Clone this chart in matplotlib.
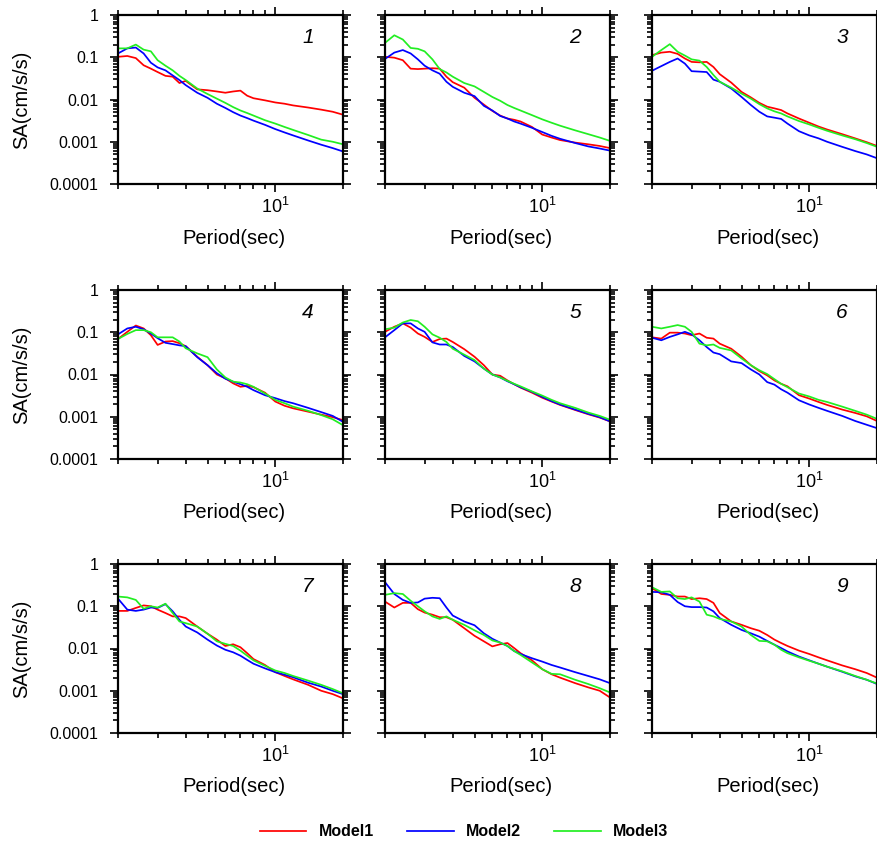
import numpy as np
import matplotlib
matplotlib.use("Agg")
import matplotlib.pyplot as plt
from matplotlib.ticker import LogLocator, FixedLocator, NullFormatter, FixedFormatter

plt.rcParams['font.family'] = ['Liberation Sans', 'DejaVu Sans']

# Periods (sec) at which the spectra were read
periods = [2, 2.2, 2.4, 2.6, 2.8, 3, 3.25, 3.5, 3.75, 4, 4.5, 5, 5.5, 6, 6.5, 7,
           7.5, 8, 9, 10, 11, 12, 14, 16, 18, 20]

# log10 of SA (cm/s/s); one list per model and panel
m1_p1 = [-0.99, -0.97, -1.02, -1.19, -1.27, -1.35, -1.44, -1.46, -1.61, -1.56, -1.76, -1.78, -1.81,
         -1.84, -1.81, -1.79, -1.91, -1.97, -2.02, -2.07, -2.10, -2.14, -2.19, -2.24, -2.29, -2.36]
m2_p1 = [-0.91, -0.79, -0.77, -0.91, -1.13, -1.24, -1.31, -1.43, -1.54, -1.66, -1.84, -1.96, -2.10,
         -2.20, -2.30, -2.38, -2.44, -2.50, -2.60, -2.70, -2.78, -2.85, -2.97, -3.07, -3.15, -3.23]
m3_p1 = [-0.79, -0.79, -0.70, -0.82, -0.86, -1.07, -1.20, -1.31, -1.44, -1.54, -1.74, -1.87, -1.98,
         -2.08, -2.18, -2.26, -2.32, -2.38, -2.49, -2.57, -2.65, -2.72, -2.84, -2.95, -3.00, -3.06]

m1_p2 = [-0.99, -1.01, -1.07, -1.27, -1.28, -1.27, -1.26, -1.27, -1.46, -1.59, -1.72, -1.96, -2.12,
         -2.27, -2.38, -2.45, -2.48, -2.52, -2.65, -2.83, -2.90, -2.96, -3.02, -3.06, -3.10, -3.15]
m2_p2 = [-1.04, -0.89, -0.83, -0.91, -1.05, -1.20, -1.31, -1.39, -1.58, -1.70, -1.84, -1.92, -2.15,
         -2.26, -2.39, -2.45, -2.52, -2.57, -2.67, -2.77, -2.86, -2.93, -3.03, -3.11, -3.16, -3.21]
m3_p2 = [-0.66, -0.48, -0.58, -0.78, -0.80, -0.86, -1.05, -1.28, -1.36, -1.46, -1.61, -1.69, -1.82,
         -1.94, -2.03, -2.13, -2.20, -2.26, -2.37, -2.47, -2.55, -2.62, -2.73, -2.82, -2.90, -2.98]

m1_p3 = [-0.95, -0.89, -0.87, -0.92, -1.03, -1.11, -1.12, -1.11, -1.23, -1.40, -1.60, -1.82, -1.95,
         -2.08, -2.17, -2.21, -2.25, -2.33, -2.45, -2.55, -2.64, -2.71, -2.82, -2.92, -3.01, -3.10]
m2_p3 = [-1.32, -1.21, -1.11, -1.03, -1.15, -1.33, -1.34, -1.35, -1.53, -1.58, -1.74, -1.94, -2.13,
         -2.29, -2.40, -2.43, -2.46, -2.57, -2.75, -2.85, -2.92, -3.00, -3.12, -3.22, -3.30, -3.39]
m3_p3 = [-0.99, -0.83, -0.69, -0.87, -0.96, -1.05, -1.08, -1.23, -1.42, -1.58, -1.72, -1.86, -1.98,
         -2.11, -2.21, -2.28, -2.33, -2.40, -2.51, -2.59, -2.67, -2.74, -2.85, -2.94, -3.03, -3.12]

m1_p4 = [-1.16, -0.99, -0.84, -0.91, -1.07, -1.30, -1.22, -1.21, -1.26, -1.33, -1.58, -1.78, -2.00,
         -2.09, -2.21, -2.29, -2.27, -2.30, -2.43, -2.64, -2.74, -2.80, -2.88, -2.95, -3.01, -3.08]
m2_p4 = [-1.05, -0.91, -0.87, -0.93, -1.03, -1.14, -1.25, -1.28, -1.31, -1.33, -1.59, -1.78, -1.97,
         -2.10, -2.17, -2.23, -2.29, -2.37, -2.49, -2.56, -2.63, -2.68, -2.79, -2.89, -2.98, -3.12]
m3_p4 = [-1.16, -1.04, -0.95, -0.95, -1.00, -1.12, -1.12, -1.12, -1.22, -1.38, -1.50, -1.59, -1.88,
         -2.07, -2.17, -2.19, -2.23, -2.29, -2.45, -2.60, -2.68, -2.76, -2.86, -2.96, -3.06, -3.20]

m1_p5 = [-0.99, -0.87, -0.79, -0.89, -1.03, -1.11, -1.23, -1.16, -1.15, -1.23, -1.40, -1.58, -1.78,
         -2.00, -2.03, -2.14, -2.23, -2.31, -2.43, -2.55, -2.64, -2.72, -2.84, -2.94, -3.02, -3.11]
m2_p5 = [-1.12, -0.95, -0.79, -0.79, -0.91, -0.99, -1.24, -1.29, -1.29, -1.35, -1.56, -1.69, -1.86,
         -2.00, -2.07, -2.16, -2.23, -2.30, -2.41, -2.53, -2.63, -2.71, -2.83, -2.93, -3.01, -3.11]
m3_p5 = [-0.93, -0.89, -0.77, -0.71, -0.74, -0.87, -1.05, -1.13, -1.23, -1.39, -1.53, -1.66, -1.86,
         -2.00, -2.07, -2.15, -2.22, -2.28, -2.40, -2.50, -2.60, -2.68, -2.79, -2.90, -2.98, -3.07]

m1_p6 = [-1.12, -1.15, -1.01, -1.01, -1.03, -1.07, -1.03, -1.13, -1.15, -1.27, -1.39, -1.58, -1.78,
         -1.92, -2.02, -2.14, -2.22, -2.28, -2.49, -2.57, -2.65, -2.72, -2.83, -2.91, -2.99, -3.10]
m2_p6 = [-1.13, -1.19, -1.11, -1.05, -0.99, -1.05, -1.19, -1.35, -1.48, -1.52, -1.69, -1.73, -1.88,
         -2.00, -2.18, -2.24, -2.35, -2.43, -2.61, -2.71, -2.79, -2.86, -2.98, -3.10, -3.19, -3.27]
m3_p6 = [-0.87, -0.91, -0.87, -0.83, -0.87, -0.99, -1.27, -1.31, -1.29, -1.37, -1.43, -1.62, -1.78,
         -1.90, -1.99, -2.11, -2.22, -2.30, -2.45, -2.52, -2.60, -2.65, -2.76, -2.86, -2.95, -3.05]

m1_p7 = [-1.11, -1.11, -1.04, -0.98, -1.00, -1.08, -1.16, -1.24, -1.24, -1.28, -1.48, -1.65, -1.79,
         -1.94, -1.90, -1.97, -2.11, -2.25, -2.39, -2.56, -2.65, -2.73, -2.86, -3.00, -3.08, -3.18]
m2_p7 = [-0.82, -1.08, -1.11, -1.08, -1.03, -1.04, -0.95, -1.12, -1.32, -1.48, -1.62, -1.79, -1.93,
         -2.03, -2.09, -2.17, -2.27, -2.36, -2.47, -2.56, -2.62, -2.68, -2.81, -2.90, -3.00, -3.08]
m3_p7 = [-0.77, -0.79, -0.85, -1.06, -1.00, -1.03, -0.94, -1.16, -1.36, -1.40, -1.48, -1.65, -1.83,
         -1.89, -1.94, -2.05, -2.17, -2.28, -2.41, -2.52, -2.58, -2.65, -2.76, -2.86, -2.96, -3.06]

m1_p8 = [-0.89, -1.03, -0.92, -0.92, -1.07, -1.15, -1.20, -1.26, -1.26, -1.32, -1.52, -1.70, -1.83,
         -1.95, -1.90, -1.87, -1.99, -2.11, -2.28, -2.49, -2.61, -2.69, -2.82, -2.92, -3.00, -3.16]
m2_p8 = [-0.43, -0.71, -0.85, -0.92, -0.91, -0.82, -0.80, -0.81, -1.03, -1.22, -1.36, -1.45, -1.64,
         -1.77, -1.86, -1.94, -2.06, -2.13, -2.23, -2.31, -2.39, -2.45, -2.56, -2.65, -2.73, -2.82]
m3_p8 = [-0.73, -0.69, -0.71, -0.87, -1.00, -1.12, -1.24, -1.30, -1.24, -1.32, -1.44, -1.57, -1.68,
         -1.81, -1.86, -1.94, -2.06, -2.15, -2.33, -2.49, -2.60, -2.61, -2.74, -2.84, -2.94, -3.04]

m1_p9 = [-0.57, -0.71, -0.73, -0.77, -0.77, -0.83, -0.81, -0.83, -0.92, -1.16, -1.36, -1.44, -1.52,
         -1.58, -1.68, -1.79, -1.87, -1.94, -2.05, -2.13, -2.21, -2.28, -2.40, -2.49, -2.58, -2.69]
m2_p9 = [-0.66, -0.67, -0.73, -0.90, -1.00, -1.02, -1.02, -1.03, -1.12, -1.28, -1.44, -1.56, -1.64,
         -1.72, -1.82, -1.91, -1.99, -2.07, -2.19, -2.28, -2.36, -2.43, -2.55, -2.66, -2.74, -2.84]
m3_p9 = [-0.55, -0.66, -0.65, -0.81, -0.83, -0.79, -0.89, -1.20, -1.24, -1.30, -1.36, -1.48, -1.68,
         -1.82, -1.83, -1.91, -2.03, -2.11, -2.21, -2.29, -2.36, -2.43, -2.54, -2.65, -2.74, -2.83]

model_names = ['Model1', 'Model2', 'Model3']
model_colors = ['#ff0000', '#0000ff', '#22ee22']
panel_labels = ['1', '2', '3', '4', '5', '6', '7', '8', '9']
panels = [(m1_p1, m2_p1, m3_p1), (m1_p2, m2_p2, m3_p2), (m1_p3, m2_p3, m3_p3),
          (m1_p4, m2_p4, m3_p4), (m1_p5, m2_p5, m3_p5), (m1_p6, m2_p6, m3_p6),
          (m1_p7, m2_p7, m3_p7), (m1_p8, m2_p8, m3_p8), (m1_p9, m2_p9, m3_p9)]
y_ticks = [1e-4, 1e-3, 1e-2, 1e-1, 1]
y_tick_labels = ['0.0001', '0.001', '0.01', '0.1', '1']

W, H = 877, 841
fig = plt.figure(figsize=(W / 100, H / 100), dpi=100)

col_left = [118, 385, 652]
row_top = [15, 290, 564]
pw, ph = 225, 169

handles = None
for i, curves in enumerate(panels):
    r, c = divmod(i, 3)
    ax = fig.add_axes([col_left[c] / W, (H - row_top[r] - ph) / H, pw / W, ph / H])
    lines = []
    for vals, name, col in zip(curves, model_names, model_colors):
        ln, = ax.plot(periods, 10 ** np.array(vals), color=col, lw=1.25, label=name)
        lines.append(ln)
    handles = lines
    ax.set_xscale('log')
    ax.set_yscale('log')
    ax.set_xlim(2, 20)
    ax.set_ylim(1e-4, 1)
    ax.xaxis.set_major_locator(FixedLocator([10]))
    ax.xaxis.set_minor_locator(LogLocator(base=10, subs=np.arange(2, 10)))
    ax.xaxis.set_minor_formatter(NullFormatter())
    ax.yaxis.set_major_locator(FixedLocator(y_ticks))
    ax.yaxis.set_minor_locator(LogLocator(base=10, subs=np.arange(2, 10), numticks=20))
    ax.yaxis.set_minor_formatter(NullFormatter())
    if c == 0:
        ax.yaxis.set_major_formatter(FixedFormatter(y_tick_labels))
    else:
        ax.yaxis.set_major_formatter(NullFormatter())
    ax.tick_params(which='both', direction='out', top=True, right=True, width=1.2,
                   colors='black')
    ax.tick_params(axis='x', which='major', length=6, pad=3, labelsize=13)
    ax.tick_params(axis='y', which='major', length=6, pad=8, labelsize=11.5)
    ax.tick_params(which='minor', length=3.5)
    for sp in ax.spines.values():
        sp.set_linewidth(1.6)
    ax.text(0.845, 0.864, panel_labels[i], transform=ax.transAxes, ha='center',
            va='center', fontsize=15, style='italic')
    fig.text((col_left[c] + pw / 2 + 3) / W, (H - row_top[r] - ph - 54) / H, 'Period(sec)',
             ha='center', va='center', fontsize=14.5)
    if c == 0:
        fig.text(22 / W, (H - row_top[r] - ph / 2) / H, 'SA(cm/s/s)', rotation=90,
                 ha='center', va='center', fontsize=14.5)

fig.legend(handles, model_names, loc='center', ncol=3, bbox_to_anchor=(0.529, 1 - 832 / H),
           frameon=False, handlelength=2.9, handletextpad=0.75, columnspacing=2.1,
           prop={'weight': 'bold', 'size': 11.5})

fig.savefig('out.png', dpi=100)
